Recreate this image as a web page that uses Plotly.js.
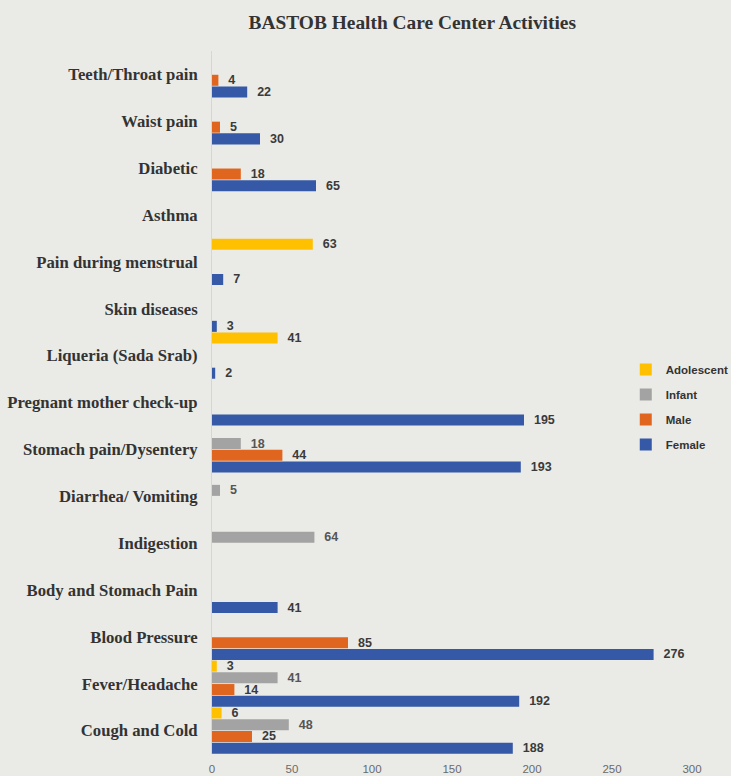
<!DOCTYPE html>
<html>
<head>
<meta charset="utf-8">
<script src="https://cdn.plot.ly/plotly-3.0.1.min.js"></script>
<style>html,body{margin:0;padding:0;background:#EAEBE7;}#chart{width:731px;height:776px;}</style>
</head>
<body>
<div id="chart"></div>
<script>
// Categories listed bottom to top
var categories = ["Cough and Cold","Fever/Headache","Blood Pressure","Body and Stomach Pain","Indigestion","Diarrhea/ Vomiting","Stomach pain/Dysentery","Pregnant mother check-up","Liqueria (Sada Srab)","Skin diseases","Pain during menstrual","Asthma","Diabetic","Waist pain","Teeth/Throat pain"];
var female     = [188, 192, 276, 41, null, null, 193, 195, 2, 3, 7, null, 65, 30, 22];
var male       = [25, 14, 85, null, null, null, 44, null, null, null, null, null, 18, 5, 4];
var infant     = [48, 41, null, null, 64, 5, 18, null, null, null, null, null, null, null, null];
var adolescent = [6, 3, null, null, null, null, null, null, 41, null, 63, null, null, null, null];
var xTicks = [0, 50, 100, 150, 200, 250, 300];

function mk(name, vals, color, txtColor, rank){
  return {
    type:'bar', orientation:'h', name:name, legendgroup:name, legendrank:rank,
    y:categories, x:vals,
    marker:{color:color},
    texttemplate:'\u00a0\u00a0%{x}', textposition:'outside', cliponaxis:false, constraintext:'none',
    textfont:{family:'Liberation Sans, Arial, sans-serif', size:12.5, color:txtColor, weight:'bold'},
    hoverinfo:'x+name'
  };
}
var data = [
  mk('Female', female, '#3559A6', '#3a3a3a', 4),
  mk('Male', male, '#E0661F', '#3a3a3a', 3),
  mk('Infant', infant, '#A3A3A3', '#555555', 2),
  mk('Adolescent', adolescent, '#FFC000', '#3a3a3a', 1)
];
var layout = {
  width:731, height:776,
  paper_bgcolor:'#EAEBE7', plot_bgcolor:'#EAEBE7',
  margin:{l:212, r:39, t:51, b:22, autoexpand:false},
  barmode:'group', bargap:0, bargroupgap:0.06,
  title:{text:'BASTOB Health Care Center Activities', x:0.564, xanchor:'center', y:0.972, yanchor:'middle',
    font:{family:'Liberation Serif, Times New Roman, serif', size:19.4, color:'#333333', weight:'bold'}},
  xaxis:{range:[0,300], tickvals:xTicks, showgrid:false, zeroline:false, showline:false,
    ticks:'outside', ticklen:4, tickcolor:'rgba(0,0,0,0)',
    tickfont:{family:'Liberation Sans, Arial, sans-serif', size:11.5, color:'#6a6a6a'}, fixedrange:true},
  yaxis:{type:'category', categoryorder:'array', categoryarray:categories, showgrid:false, zeroline:false,
    showline:true, linecolor:'#D6D7D3', linewidth:1,
    ticks:'outside', ticklen:10, tickcolor:'rgba(0,0,0,0)',
    tickfont:{family:'Liberation Serif, Times New Roman, serif', size:16.7, color:'#333333', weight:'bold'}, fixedrange:true},
  legend:{x:0.862, xanchor:'left', y:0.5676, yanchor:'top', traceorder:'grouped', tracegroupgap:6,
    bgcolor:'rgba(0,0,0,0)', font:{family:'Liberation Sans, Arial, sans-serif', size:11.5, color:'#333333', weight:'bold'},
    itemwidth:30},
  showlegend:true
};
Plotly.newPlot('chart', data, layout, {displayModeBar:false, staticPlot:true});
</script>
</body>
</html>
